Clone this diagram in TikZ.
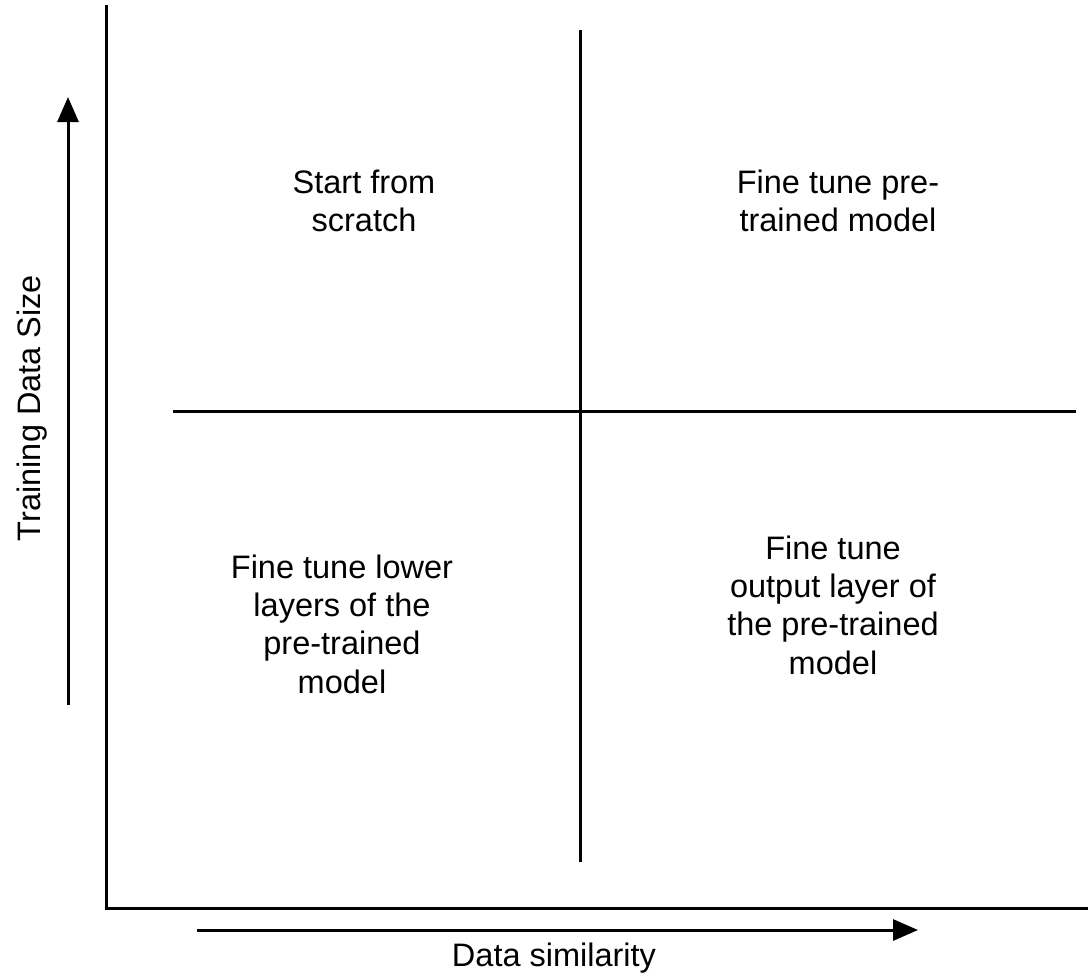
\documentclass[tikz,border=0pt]{standalone}
\usepackage{fontspec}
\setmainfont{Liberation Sans}
\usetikzlibrary{arrows.meta}
\begin{document}
\begin{tikzpicture}[x=0.02cm,y=-0.02cm,
  ln/.style={line width=0.06cm, black},
  arr/.style={ln, -{Triangle[length=0.5cm,width=0.42cm]}},
  lbl/.style={align=center, font=\fontsize{18.5pt}{21.8pt}\selectfont, inner sep=0pt}]
\useasboundingbox (0,0) rectangle (1088,978);
% axes
\coordinate (ytop) at (106,5);
\coordinate (origin) at (106,908);
\coordinate (xend) at (1088,908);
\draw[ln, line join=miter] (ytop) -- (origin) -- (xend);
% dividers
\coordinate (vtop) at (580,30);
\coordinate (vbot) at (580,862);
\coordinate (hl) at (173,411);
\coordinate (hr) at (1076,411);
\draw[ln] (vtop) -- (vbot);
\draw[ln] (hl) -- (hr);
% arrows
\coordinate (ya) at (68,705);
\coordinate (yb) at (68,97);
\draw[arr] (ya) -- (yb);
\coordinate (xa) at (197,930);
\coordinate (xb) at (918,930);
\draw[arr] (xa) -- (xb);
% labels
\node[lbl, rotate=90] (ylab) at (32,408) {Training Data Size};
\node[lbl] (xlab) at (554,958) {Data similarity};
\node[lbl] (q1) at (364,201) {Start from\\scratch};
\node[lbl] (q2) at (838,201) {Fine tune pre-\\trained model};
\node[lbl] (q3) at (342,624) {Fine tune lower\\layers of the\\pre-trained\\model};
\node[lbl] (q4) at (833,605) {Fine tune\\output layer of\\the pre-trained\\model};
\end{tikzpicture}
\end{document}
